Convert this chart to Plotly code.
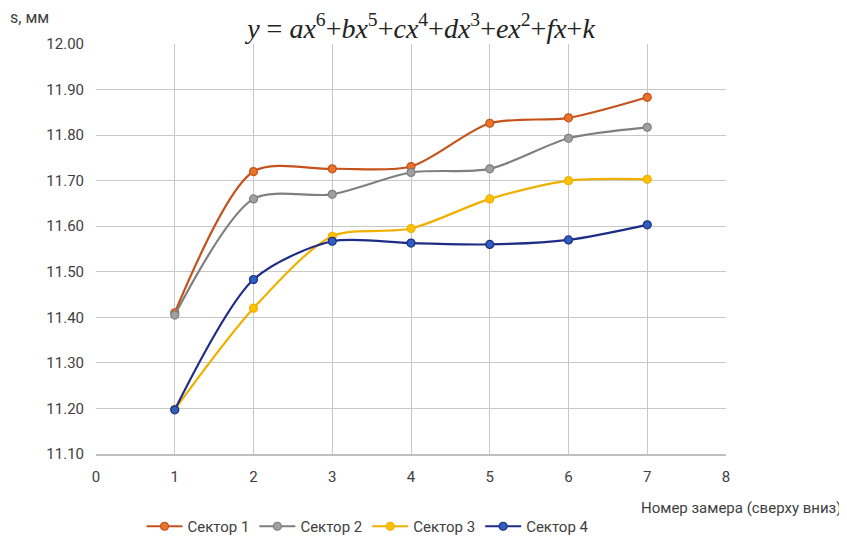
import plotly.graph_objects as go

x_vals = [1, 2, 3, 4, 5, 6, 7]
sector1 = [11.410, 11.720, 11.726, 11.731, 11.826, 11.838, 11.883]
sector2 = [11.405, 11.660, 11.670, 11.718, 11.726, 11.793, 11.817]
sector3 = [11.198, 11.420, 11.578, 11.595, 11.660, 11.700, 11.703]
sector4 = [11.197, 11.483, 11.567, 11.563, 11.560, 11.570, 11.603]
names = ["Сектор 1", "Сектор 2", "Сектор 3", "Сектор 4"]
series = [sector1, sector2, sector3, sector4]
line_colors = ["#C5521A", "#7F7F7F", "#F0B000", "#1F2C86"]
marker_colors = ["#E8752A", "#A0A0A0", "#FFC000", "#2F5FBF"]

FONT = "Roboto, sans-serif"
W, H = 839, 535
L, R, T, B = 88, 121, 36, 89
PW, PH = W - L - R, H - T - B

fig = go.Figure()
for n, s, lc, mc in zip(names, series, line_colors, marker_colors):
    fig.add_trace(go.Scatter(
        x=x_vals, y=s, name=n, mode="lines+markers",
        line=dict(color=lc, width=2.2, shape="spline", smoothing=0.8),
        marker=dict(color=mc, size=8, line=dict(color=lc, width=1.2)),
    ))

fig.update_layout(
    width=W, height=H,
    margin=dict(l=L, r=R, t=T, b=B, autoexpand=False),
    paper_bgcolor="white", plot_bgcolor="white",
    font=dict(family=FONT, size=15, color="#404040"),
    showlegend=True,
    legend=dict(orientation="h", xref="container", yref="container",
                x=360 / W, xanchor="center", y=-0.012, yanchor="bottom",
                font=dict(size=15, color="#404040"), itemwidth=36,
                tracegroupgap=0),
    title=dict(text="<i>y</i> = <i>ax</i><sup>6</sup>+<i>bx</i><sup>5</sup>+<i>cx</i><sup>4</sup>+<i>dx</i><sup>3</sup>+<i>ex</i><sup>2</sup>+<i>fx</i>+<i>k</i>",
               font=dict(family="Liberation Serif, Times New Roman, serif", size=28, color="#222222"),
               x=413 / W, xanchor="center", y=1 - 20 / H, yanchor="middle"),
)
fig.update_xaxes(range=[0, 8], dtick=1, tick0=0, showgrid=True, gridcolor="#C8C8C8", gridwidth=1,
                 zeroline=False, showline=True, linecolor="#BFBFBF", linewidth=1.5, ticks="",
                 tickfont=dict(size=15, color="#404040"), ticklabelstandoff=8)
fig.update_yaxes(range=[11.10, 12.00], dtick=0.1, tick0=11.1, tickformat=".2f", showgrid=True,
                 gridcolor="#C8C8C8", gridwidth=1, zeroline=False, showline=False, ticks="",
                 tickfont=dict(size=15, color="#404040"), ticklabelstandoff=11)

fig.add_annotation(text="s, мм", xref="paper", yref="paper", x=-L / PW, y=1 + 26 / PH,
                   xanchor="left", yanchor="middle", showarrow=False,
                   font=dict(size=16, color="#404040"))
fig.add_annotation(text="Номер замера (сверху вниз)", xref="paper", yref="paper",
                   x=(835 - L) / PW, y=-(500 - (T + PH)) / PH, xanchor="right", yanchor="middle",
                   showarrow=False, font=dict(size=15, color="#404040"))

fig.write_html("out.html")
